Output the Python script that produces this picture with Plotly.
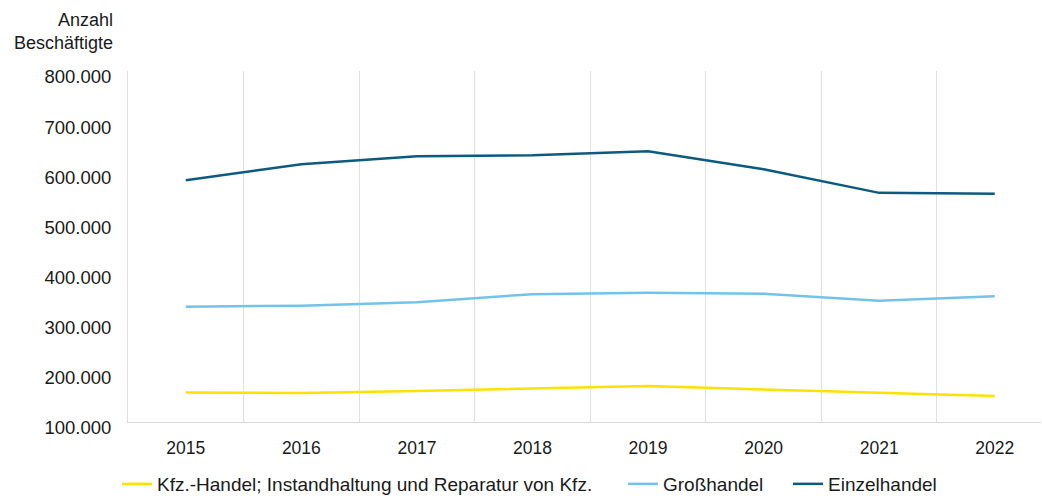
import plotly.graph_objects as go

years = [2015, 2016, 2017, 2018, 2019, 2020, 2021, 2022]
kfz = [159000, 158000, 162000, 167000, 172000, 165000, 158000, 152000]
gross = [330000, 332000, 339000, 355000, 358000, 356000, 342000, 351000]
einzel = [582000, 614000, 630000, 632000, 640000, 604000, 557000, 555000]

names = ["Kfz.-Handel; Instandhaltung und Reparatur von Kfz.", "Großhandel", "Einzelhandel"]
colors = ["#FFE000", "#72C3EC", "#0B5A80"]
yticks = [100000, 200000, 300000, 400000, 500000, 600000, 700000, 800000]
yticktext = ["100.000", "200.000", "300.000", "400.000", "500.000", "600.000", "700.000", "800.000"]

FONT = "Liberation Sans, Arial, sans-serif"
fig = go.Figure()
legend_ids = ["legend2", "legend3", "legend4"]
for series, name, col, lg in zip([kfz, gross, einzel], names, colors, legend_ids):
    fig.add_trace(go.Scatter(x=years, y=series, name=name, mode="lines",
                             line=dict(color=col, width=2.5), legend=lg))

W, H = 1042, 496
ml, mr, mt, mb = 128, 1, 71, 74

leg_common = dict(orientation="h", yanchor="middle", xanchor="left",
                  xref="container", yref="container", y=1 - 484 / H,
                  font=dict(family=FONT, size=19, color="#1a1a1a"), bgcolor="rgba(0,0,0,0)")
fig.update_layout(
    width=W, height=H,
    margin=dict(l=ml, r=mr, t=mt, b=mb, autoexpand=False),
    plot_bgcolor="white", paper_bgcolor="white",
    font=dict(family=FONT, size=17, color="#1a1a1a"),
    legend2=dict(x=117 / W, **leg_common),
    legend3=dict(x=623 / W, **leg_common),
    legend4=dict(x=788 / W, **leg_common),
    xaxis=dict(range=[2014.5, 2022.4], tickvals=years, ticktext=[str(y) for y in years],
               showgrid=False, zeroline=False, showline=True, linecolor="#d9d9d9", linewidth=1,
               ticks="", tickfont=dict(size=17.5), automargin=False, ticklabelstandoff=10,
               minor=dict(tickvals=[2015.5, 2016.5, 2017.5, 2018.5, 2019.5, 2020.5, 2021.5],
                          showgrid=True, gridcolor="#e0e0e0", gridwidth=1, ticks="")),
    yaxis=dict(range=[100000, 800000], tickvals=yticks, ticktext=yticktext,
               showgrid=False, zeroline=False, showline=True, linecolor="#e0e0e0", linewidth=1,
               ticks="", tickfont=dict(size=18.5), ticklabelshift=6, ticklabelstandoff=12,
               automargin=False),
    annotations=[dict(text="Anzahl<br>Beschäftigte", xref="paper", yref="paper", x=0, y=1,
                      xanchor="right", yanchor="bottom", align="right", xshift=-13, yshift=16,
                      showarrow=False, font=dict(family=FONT, size=18, color="#1a1a1a"))],
)
fig.write_html("out.html", config={"displayModeBar": False},
               post_script="document.body.style.margin='0px';")
